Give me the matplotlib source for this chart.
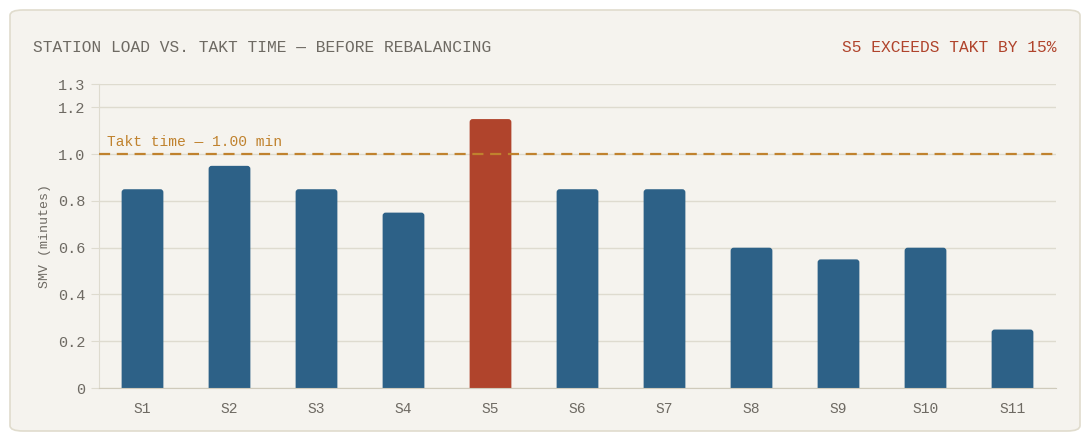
import matplotlib.pyplot as plt
from matplotlib.patches import FancyBboxPatch

# data
stations = ['S1', 'S2', 'S3', 'S4', 'S5', 'S6', 'S7', 'S8', 'S9', 'S10', 'S11']
smv = [0.85, 0.95, 0.85, 0.75, 1.15, 0.85, 0.85, 0.60, 0.55, 0.60, 0.25]
takt = 1.00
yticks = [0, 0.2, 0.4, 0.6, 0.8, 1.0, 1.2, 1.3]
ytick_labels = ['0', '0.2', '0.4', '0.6', '0.8', '1.0', '1.2', '1.3']

BLUE = '#2d6187'
RED = '#b0442c'
TAKT = '#c0822e'
BG = '#f5f3ee'
GRID = '#dedbcf'
TXT = '#6e6a63'

plt.rcParams['font.family'] = ['Liberation Mono', 'DejaVu Sans Mono']

W, H = 1091, 443
fig = plt.figure(figsize=(W / 100, H / 100), dpi=100)
fig.patch.set_facecolor('white')

# card background
card = FancyBboxPatch((10 / W, 12 / H), 1070 / W, 421 / H,
                      boxstyle='round,pad=0,rounding_size=0.012',
                      transform=fig.transFigure, facecolor=BG,
                      edgecolor='#e0dccd', linewidth=1.2, zorder=-10)
fig.patches.append(card)

ax = fig.add_axes([99 / W, (H - 388) / H, 957 / W, 304 / H])
ax.patch.set_alpha(0)

colors = [RED if v > takt else BLUE for v in smv]
x = list(range(len(stations)))
bars = ax.bar(x, smv, width=0.48, color=colors, zorder=3)
# swap plain rectangles for ones with slightly rounded tops
r = 0.035
for b in bars:
    bx, by = b.get_x(), b.get_y()
    bw, bh = b.get_width(), b.get_height()
    b.set_visible(False)
    p = FancyBboxPatch((bx, by - 0.03), bw, bh + 0.03,
                       boxstyle='round,pad=0,rounding_size=%f' % r,
                       mutation_aspect=0.37, facecolor=b.get_facecolor(),
                       edgecolor='none', zorder=3, clip_on=True)
    ax.add_patch(p)

ax.axhline(takt, color=TAKT, linestyle=(0, (5, 3)), linewidth=1.6, zorder=4)
ax.text(-0.41, takt + 0.022, 'Takt time — 1.00 min', color=TAKT,
        fontsize=10.5, va='bottom', ha='left')

ax.set_xlim(-0.5, len(stations) - 0.5)
ax.set_ylim(0, 1.3)
ax.set_yticks(yticks)
ax.set_yticklabels(ytick_labels)
ax.set_xticks(x)
ax.set_xticklabels(stations)
ax.grid(axis='y', color=GRID, linewidth=1, zorder=0)
ax.tick_params(axis='y', colors=TXT, labelsize=11, length=6, color=GRID, pad=4)
ax.tick_params(axis='x', colors=TXT, labelsize=10.5, length=0, pad=10)
for s in ['top', 'right']:
    ax.spines[s].set_visible(False)
ax.spines['left'].set_color(GRID)
ax.spines['bottom'].set_color('#cfcabb')
ax.spines['bottom'].set_zorder(5)
ax.set_ylabel('SMV (minutes)', color=TXT, fontsize=9.5, labelpad=2)
ax.yaxis.set_label_coords(-48 / 957, 0.5)

fig.text(33 / W, 1 - 48 / H, 'STATION LOAD VS. TAKT TIME — BEFORE REBALANCING',
         color=TXT, fontsize=11.7, va='center', ha='left')
fig.text(1056 / W, 1 - 48 / H, 'S5 EXCEEDS TAKT BY 15%', color=RED,
         fontsize=11.7, va='center', ha='right')

fig.savefig('out.png', dpi=100, facecolor='white')
